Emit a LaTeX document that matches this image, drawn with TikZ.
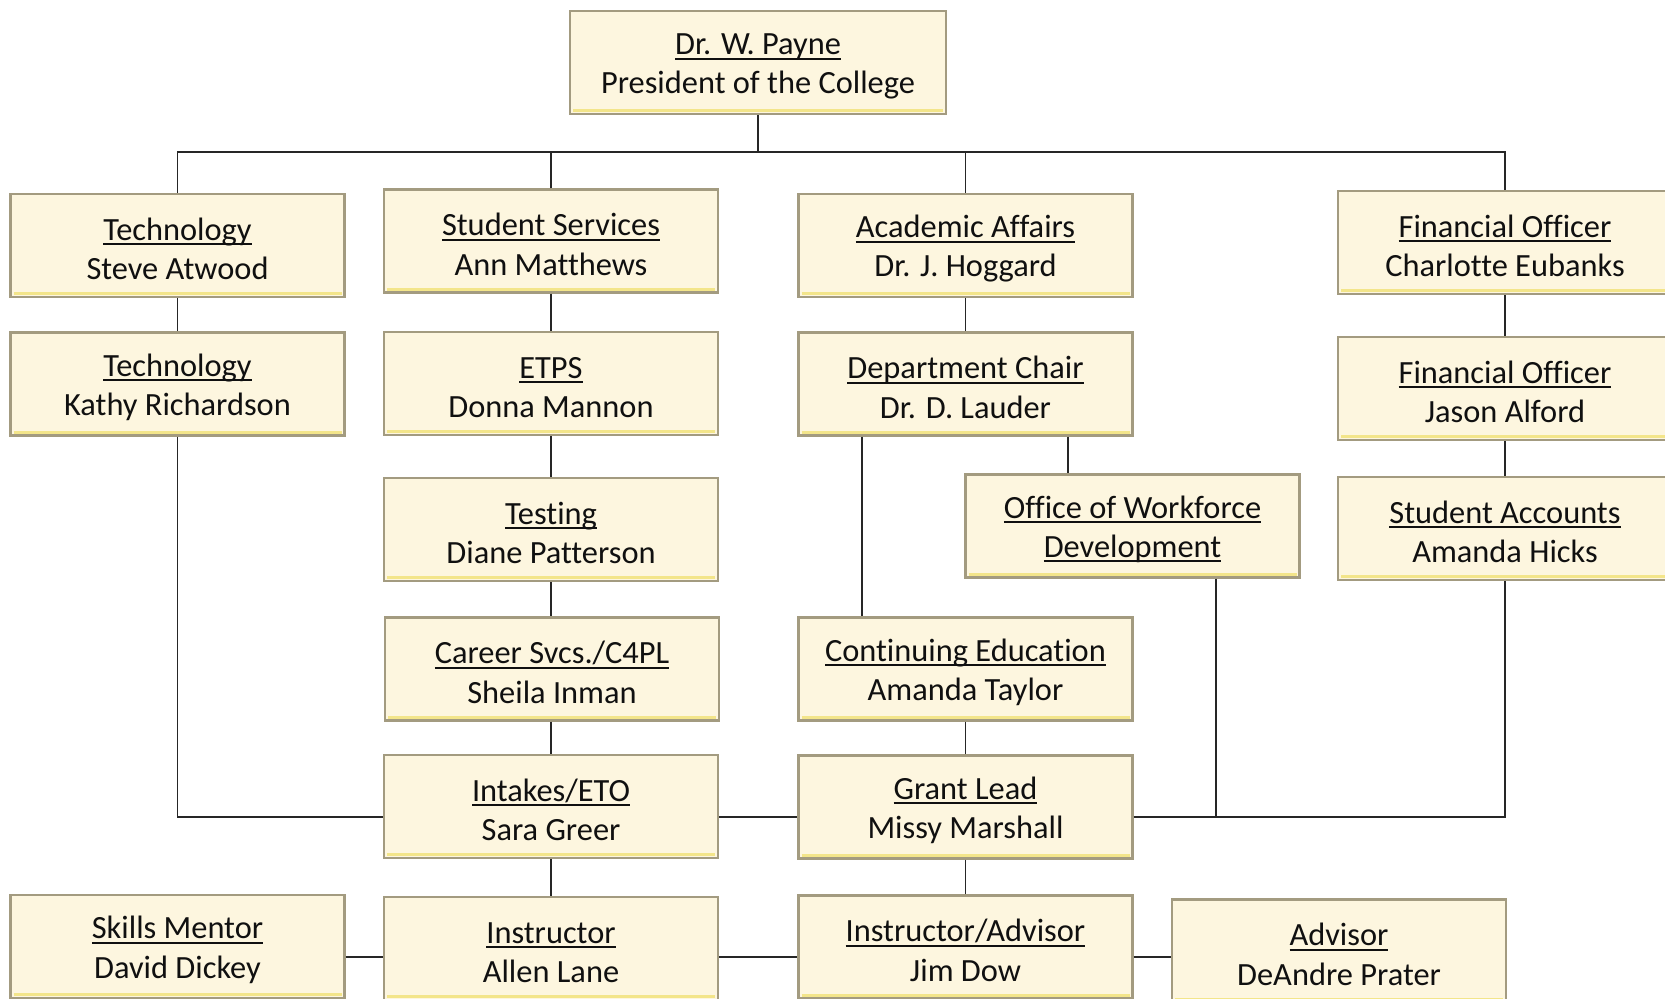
\documentclass[tikz,border=0pt]{standalone}
\usepackage{fontspec}
\setmainfont[Ligatures=NoCommon]{Carlito}
\newcommand\ulx[1]{\leavevmode\setbox0\hbox{#1}\rlap{\rule[-2.4pt]{\wd0}{1pt}}\box0}
\newcommand\bx[2]{\rule{0pt}{14.6pt}\ulx{#1}\\#2}
\definecolor{boxfill}{HTML}{FDF6DF}
\definecolor{boxedge}{HTML}{A39B80}
\definecolor{bevel}{HTML}{F3E58A}
\definecolor{txt}{HTML}{101010}
\tikzset{
  box/.style={draw=boxedge, line width=1.2pt, fill=boxfill, align=center,
    minimum width=167pt, minimum height=51.5pt, inner sep=2pt, text=txt,
    font=\fontsize{16.2}{19.6}\selectfont,
    path picture={\draw[bevel, line width=1.6pt]
      ([shift={(1.5pt,1.6pt)}]path picture bounding box.south west) --
      ([shift={(-1.5pt,1.6pt)}]path picture bounding box.south east);}},
  conn/.style={draw=black!85, line width=0.8pt}
}
\begin{document}
\begin{tikzpicture}[x=0.5pt,y=-0.5pt]
\fill[white] (0,0) rectangle (1665,999);
\useasboundingbox (0,0) rectangle (1665,999);
% nodes
\node[box, minimum width=188pt] (pay) at (758,62.5) {\bx{Dr. W. Payne}{President of the College}};
\node[box] (tech1) at (177.5,245.5) {\bx{Technology}{Steve Atwood}};
\node[box] (ss) at (551,241) {\bx{Student Services}{Ann Matthews}};
\node[box] (aa) at (965.5,245.5) {\bx{Academic Affairs}{Dr. J. Hoggard}};
\node[box] (fo1) at (1505,242.5) {\bx{Financial Officer}{Charlotte Eubanks}};
\node[box] (tech2) at (177.5,384) {\bx{Technology}{Kathy Richardson}};
\node[box] (etps) at (551,383.5) {\bx{ETPS}{Donna Mannon}};
\node[box] (dept) at (965.5,384) {\bx{Department Chair}{Dr. D. Lauder}};
\node[box] (fo2) at (1505,388.5) {\bx{Financial Officer}{Jason Alford}};
\node[box] (test) at (551,529.5) {\bx{Testing}{Diane Patterson}};
\node[box] (owd) at (1132.5,526) {\bx{Office of Workforce}{\ulx{Development}}};
\node[box] (sa) at (1505,528.5) {\bx{Student Accounts}{Amanda Hicks}};
\node[box] (car) at (552,669) {\bx{Career Svcs./C4PL}{Sheila Inman}};
\node[box] (ce) at (965.5,669) {\bx{Continuing Education}{Amanda Taylor}};
\node[box] (intake) at (551,806.5) {\bx{Intakes/ETO}{Sara Greer}};
\node[box] (grant) at (965.5,807) {\bx{Grant Lead}{Missy Marshall}};
\node[box] (skills) at (177.5,946.5) {\bx{Skills Mentor}{David Dickey}};
\node[box] (instr) at (551,948.5) {\bx{Instructor}{Allen Lane}};
\node[box] (ia) at (965.5,947) {\bx{Instructor/Advisor}{Jim Dow}};
\node[box] (adv) at (1339,951) {\bx{Advisor}{DeAndre Prater}};
% helper coordinates
\coordinate (bus) at (758,152);
\coordinate (ly) at (0,817);
\coordinate (by) at (0,957);
\coordinate (xce) at (862,0);
\coordinate (xowd) at (1068,0);
\coordinate (xowdb) at (1216,0);
% connectors
\draw[conn] (pay.south) -- (pay.south |- bus);
\draw[conn] (tech1.north) |- (fo1.north |- bus) -- (fo1.north);
\draw[conn] (ss.north) -- (ss.north |- bus);
\draw[conn] (aa.north) -- (aa.north |- bus);
\draw[conn] (tech1.south) -- (tech2.north);
\draw[conn] (tech2.south) |- (intake.west |- ly);
\draw[conn] (ss.south) -- (etps.north);
\draw[conn] (etps.south) -- (test.north);
\draw[conn] (test.south) -- (car.north -| test.south);
\draw[conn] (car.south -| intake.north) -- (intake.north);
\draw[conn] (aa.south) -- (dept.north);
\draw[conn] (dept.south -| xce) -- (ce.north -| xce);
\draw[conn] (dept.south -| xowd) -- (owd.north -| xowd);
\draw[conn] (ce.south) -- (grant.north);
\draw[conn] (fo1.south) -- (fo2.north);
\draw[conn] (fo2.south) -- (sa.north);
\draw[conn] (intake.east |- ly) -- (grant.west |- ly);
\draw[conn] (grant.east |- ly) -| (sa.south);
\draw[conn] (owd.south -| xowdb) -- (xowdb |- ly);
\draw[conn] (intake.south) -- (instr.north);
\draw[conn] (grant.south) -- (ia.north);
\draw[conn] (skills.east |- by) -- (instr.west |- by);
\draw[conn] (instr.east |- by) -- (ia.west |- by);
\draw[conn] (ia.east |- by) -- (adv.west |- by);
\end{tikzpicture}
\end{document}
